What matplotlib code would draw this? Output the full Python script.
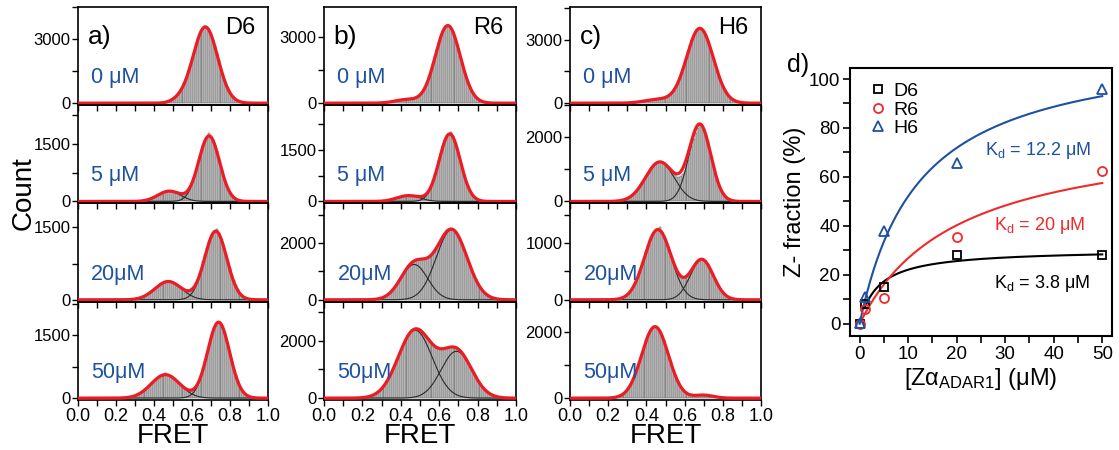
import numpy as np
import matplotlib
matplotlib.use("Agg")
import matplotlib.pyplot as plt
from matplotlib.ticker import MultipleLocator, AutoMinorLocator

plt.rcParams["font.family"] = ["Liberation Sans", "DejaVu Sans"]
plt.rcParams["mathtext.fontset"] = "custom"
plt.rcParams["mathtext.rm"] = "Liberation Sans"
plt.rcParams["mathtext.it"] = "Liberation Sans:italic"

# ---------------------------------------------------------------------------
# smFRET histograms: counts in 0.01-wide bins, first bin centred at FRET 0.20
# ---------------------------------------------------------------------------
BIN_START = 0.20
BIN_WIDTH = 0.01

d6_0uM = [0, 0, 0, 0, 0, 0, 0, 0, 0, 0, 0, 0, 0, 0, 0, 0, 0, 0, 0, 0,
          10, 10, 20, 20, 30, 50, 70, 90, 120, 160,
          210, 270, 360, 470, 600, 760, 930, 1150, 1400, 1690,
          1990, 2330, 2650, 2950, 3200, 3400, 3520, 3620, 3510, 3390,
          3200, 2950, 2650, 2320, 2000, 1670, 1360, 1090, 850, 650,
          480, 350, 250, 170, 120, 80, 50, 30, 20, 10]
d6_5uM = [0, 0, 0, 0, 0, 0, 0, 0, 0, 0, 0, 0,
          8, 12, 18, 26, 36, 50, 67, 88,
          111, 137, 164, 191, 216, 238, 255, 266, 270, 266,
          255, 238, 231, 216, 205, 204, 216, 247, 298, 377,
          485, 621, 781, 958, 1143, 1321, 1477, 1604, 1687, 1780,
          1687, 1604, 1477, 1316, 1135, 946, 763, 595, 449, 327,
          231, 159, 105, 67, 41, 25, 15]
d6_20uM = [0, 0, 0, 0, 0, 0, 0, 5, 8, 11,
           17, 24, 33, 44, 59, 77, 98, 124, 151, 182,
           214, 247, 279, 309, 336, 356, 371, 379, 379, 371,
           356, 336, 309, 279, 247, 234, 215, 202, 201, 212,
           239, 285, 352, 440, 547, 669, 803, 944, 1080, 1202,
           1306, 1380, 1419, 1460, 1380, 1306, 1202, 1075, 936, 792,
           652, 523, 407, 308, 226, 162, 114, 77, 51, 33, 20]
d6_50uM = [0, 0, 0, 0, 0, 11, 16, 22, 31, 43,
           58, 76, 98, 125, 156, 191, 230, 273, 317, 362,
           407, 449, 486, 517, 540, 555, 590, 555, 540, 517,
           486, 449, 407, 362, 317, 273, 245, 216, 196, 188,
           196, 223, 270, 342, 441, 566, 715, 886, 1070, 1255,
           1428, 1586, 1707, 1785, 1812, 1785, 1707, 1586, 1428, 1250,
           1062, 875, 699, 544, 410, 299, 212, 147, 98, 63, 40, 25, 15]

r6_0uM = [0, 0, 0, 0, 0, 0, 0, 0, 0, 0, 0, 0, 0,
          20, 40, 60, 80, 100, 110, 120,
          130, 140, 150, 160, 170, 209, 230, 256, 292, 335,
          404, 501, 626, 790, 990, 1239, 1506, 1821, 2151, 2477,
          2788, 3065, 3291, 3451, 3532, 3532, 3451, 3291, 3065, 2788,
          2477, 2151, 1821, 1506, 1219, 960, 740, 556, 411, 294,
          205, 142, 96, 60, 39, 25, 15]
r6_5uM = [0, 0, 0, 0, 0, 0, 0, 0, 5, 7,
          11, 16, 23, 32, 42, 55, 70, 86, 103, 120,
          136, 150, 161, 168, 170, 168, 161, 150, 136, 142,
          140, 147, 166, 204, 262, 350, 465, 611, 787, 983,
          1195, 1406, 1605, 1772, 1891, 1956, 2010, 1891, 1772, 1605,
          1406, 1190, 976, 776, 595, 442, 318, 220, 149, 96,
          61, 37, 22, 13]
r6_20uM = [0, 0, 0, 0, 5, 9, 14, 21, 31, 46,
           65, 91, 126, 168, 222, 287, 363, 449, 546, 649,
           756, 878, 988, 1090, 1183, 1263, 1328, 1372, 1404, 1421,
           1430, 1436, 1445, 1458, 1485, 1528, 1591, 1669, 1768, 1878,
           1998, 2119, 2235, 2336, 2416, 2474, 2496, 2486, 2442, 2351,
           2245, 2109, 1951, 1776, 1591, 1405, 1220, 1045, 879, 729,
           595, 479, 378, 294, 225, 170, 126, 94, 67, 47, 32, 22, 15]
r6_50uM = [15, 26, 35, 50, 66, 90, 118, 156, 203, 260,
           328, 406, 501, 607, 730, 862, 1006, 1160, 1318, 1481,
           1644, 1797, 1944, 2071, 2183, 2268, 2355, 2394, 2409, 2401,
           2366, 2313, 2242, 2164, 2077, 1995, 1915, 1847, 1793, 1751,
           1726, 1718, 1717, 1729, 1745, 1763, 1776, 1780, 1770, 1745,
           1704, 1643, 1566, 1470, 1365, 1247, 1124, 988, 864, 745,
           633, 529, 434, 351, 280, 220, 171, 130, 98, 72, 52, 37, 26]

h6_0uM = [0, 0, 0, 0, 0, 0, 0, 0, 0, 0,
          20, 30, 40, 50, 60, 70, 80, 90, 100, 110,
          120, 130, 140, 150, 160, 170, 205, 219, 230, 248,
          281, 314, 368, 447, 547, 678, 842, 1027, 1271, 1546,
          1839, 2143, 2446, 2736, 2997, 3219, 3389, 3495, 3530, 3495,
          3389, 3219, 2997, 2736, 2446, 2143, 1839, 1546, 1271, 1027,
          812, 628, 477, 357, 258, 184, 131, 88, 60, 39, 25, 15]
h6_5uM = [0, 0, 0, 0, 0, 17, 25, 36, 49, 69,
          95, 127, 166, 215, 274, 342, 419, 506, 599, 696,
          796, 893, 985, 1066, 1135, 1187, 1219, 1230, 1219, 1187,
          1135, 1083, 1013, 940, 870, 813, 776, 767, 789, 856,
          962, 1106, 1289, 1501, 1723, 1938, 2131, 2283, 2415, 2371,
          2258, 2082, 1869, 1628, 1374, 1123, 891, 688, 514, 370,
          261, 177, 117, 74, 47, 28, 17]
h6_20uM = [0, 0, 0, 0, 0, 14, 21, 31, 46, 64,
           90, 125, 167, 221, 285, 361, 446, 543, 646, 752,
           859, 960, 1052, 1130, 1189, 1227, 1239, 1290, 1189, 1130,
           1052, 968, 872, 773, 677, 590, 514, 457, 418, 398,
           398, 417, 449, 495, 548, 600, 648, 686, 709, 716,
           700, 672, 627, 569, 502, 431, 359, 292, 231, 177,
           133, 96, 68, 47, 31, 21, 13, 8]
h6_50uM = [0, 0, 10, 20, 30, 45, 65, 95, 133, 185,
           252, 335, 436, 557, 699, 856, 1030, 1210, 1398, 1578,
           1748, 1898, 2017, 2101, 2144, 2144, 2101, 2017, 1898, 1748,
           1578, 1398, 1210, 1030, 856, 699, 557, 436, 335, 252,
           198, 151, 121, 98, 89, 85, 86, 88, 90, 92,
           90, 87, 82, 75, 66, 55, 44, 33, 26, 18,
           13, 8]

# Gaussian fit components (amplitude, centre, sigma) for each histogram
d6_fits = [[(3560, 0.67, 0.065), (110, 0.53, 0.04)],
           [(1714, 0.69, 0.055), (270, 0.48, 0.06)],
           [(1424, 0.725, 0.058), (380, 0.475, 0.07)],
           [(1812, 0.74, 0.058), (560, 0.46, 0.075)]]
r6_fits = [[(3543, 0.645, 0.065), (160, 0.43, 0.06)],
           [(1964, 0.655, 0.055), (170, 0.44, 0.06)],
           [(2470, 0.665, 0.08), (1246, 0.47, 0.07)],
           [(2362, 0.475, 0.088), (1627, 0.69, 0.08)]]
h6_fits = [[(3530, 0.68, 0.07), (170, 0.46, 0.07)],
           [(2390, 0.68, 0.057), (1230, 0.47, 0.075)],
           [(1239, 0.46, 0.07), (710, 0.69, 0.06)],
           [(2150, 0.445, 0.07), (90, 0.70, 0.05)]]

constructs = ["D6", "R6", "H6"]
panel_tags = ["a)", "b)", "c)"]
conc_labels = ["0 μM", "5 μM", "20μM", "50μM"]

# Z-fraction titration
zalpha_conc = [0, 1, 5, 20, 50]
d6_zfraction = [0, 8, 15, 28, 28]
r6_zfraction = [0, 6, 10.5, 35.5, 62.5]
h6_zfraction = [0.5, 11, 38, 65.5, 96]
kd_values = {"D6": 3.8, "R6": 20.0, "H6": 12.2}
zmax_values = {"D6": 30.5, "R6": 80.5, "H6": 115.7}

# ---------------------------------------------------------------------------
RED = "#ec1c24"
BLUE = "#1d51a0"

hists = {"D6": [d6_0uM, d6_5uM, d6_20uM, d6_50uM],
         "R6": [r6_0uM, r6_5uM, r6_20uM, r6_50uM],
         "H6": [h6_0uM, h6_5uM, h6_20uM, h6_50uM]}
fits = {"D6": d6_fits, "R6": r6_fits, "H6": h6_fits}
component_rows = {"D6": [1, 2, 3], "R6": [1, 2, 3], "H6": [1, 2]}
row_tops = {"D6": [4500, 2520, 2000, 2300],
            "R6": [4400, 2800, 3400, 3350],
            "H6": [4550, 3000, 1700, 2900]}
row_major = {"D6": [3000, 1500, 1500, 1500],
             "R6": [3000, 1500, 2000, 2000],
             "H6": [3000, 2000, 1000, 2000]}

fig = plt.figure(figsize=(11.19, 4.5), dpi=100)

columns = [(0.0697, 0.1698), (0.2895, 0.1716), (0.5094, 0.1707)]
top, bottom = 0.985, 0.111
row_h = (top - bottom) / 4
xfit = np.linspace(0, 1, 500)


def gauss(x, a, c, s):
    return a * np.exp(-(x - c) ** 2 / (2 * s ** 2))


for j, name in enumerate(constructs):
    left, width = columns[j]
    for i in range(4):
        ax = fig.add_axes([left, top - (i + 1) * row_h, width, row_h])
        ax.patch.set_alpha(0)
        counts = np.asarray(hists[name][i], dtype=float)
        centres = BIN_START + BIN_WIDTH * np.arange(len(counts))
        ax.bar(centres, counts, width=BIN_WIDTH, color="#d2d2d2",
               edgecolor="#555555", linewidth=0.35, zorder=1)
        comps = fits[name][i]
        if i in component_rows[name]:
            for a, c, s in comps:
                ax.plot(xfit, gauss(xfit, a, c, s), color="#2a2a2a",
                        lw=0.8, zorder=2)
        total = sum(gauss(xfit, a, c, s) for a, c, s in comps)
        ax.plot(xfit, total, color=RED, lw=2.3, zorder=3)

        ymax = row_tops[name][i]
        ax.set_xlim(0, 1)
        ax.set_ylim(-0.02 * ymax, ymax)
        ax.xaxis.set_major_locator(MultipleLocator(0.2))
        ax.xaxis.set_minor_locator(MultipleLocator(0.1))
        ax.yaxis.set_major_locator(MultipleLocator(row_major[name][i]))
        ax.yaxis.set_minor_locator(AutoMinorLocator(2))
        ax.tick_params(which="both", direction="out", length=4.5,
                       width=1.0, labelsize=12, pad=1)
        ax.tick_params(axis="x", labelsize=13, pad=1.5)
        for sp in ax.spines.values():
            sp.set_linewidth(1.2)
        if i < 3:
            ax.tick_params(axis="x", labelbottom=False)
        else:
            ax.xaxis.set_major_formatter(plt.FuncFormatter(lambda v, p: f"{v:.1f}"))
            ax.set_xlabel("FRET", fontsize=20, labelpad=-1.5)
        ax.text(0.07, 0.28, conc_labels[i], transform=ax.transAxes,
                color=BLUE, fontsize=15.5, ha="left", va="center")
        if i == 0:
            ax.text(0.05, 0.69, panel_tags[j], transform=ax.transAxes,
                    fontsize=19, ha="left", va="center")
            ax.text(0.935, 0.9, name, transform=ax.transAxes,
                    fontsize=17, ha="right", va="top")

fig.text(0.021, 0.57, "Count", rotation=90, fontsize=20,
         ha="center", va="center")

# ---------------------------------------------------------------------------
# Panel d: Z-fraction versus Zalpha concentration with binding-curve fits
# ---------------------------------------------------------------------------
axd = fig.add_axes([0.7596, 0.2533, 0.2341, 0.5956])
series = [("D6", d6_zfraction, "k", "s", 6.0, 1.0),
          ("R6", r6_zfraction, "#f02a2a", "o", 6.5, 0.5),
          ("H6", h6_zfraction, BLUE, "^", 7.5, 0.0)]
for name, zf, col, mk, ms, x0 in series:
    xc = np.linspace(x0, 50, 300)
    kd, zm = kd_values[name], zmax_values[name]
    axd.plot(xc, zm * xc / (kd + xc), color=col, lw=1.5, zorder=2)
for name, zf, col, mk, ms, x0 in series:
    axd.plot(zalpha_conc, zf, linestyle="none", marker=mk, ms=ms,
             mfc="none", mec=col, mew=1.3, label=name, zorder=3,
             clip_on=False)

axd.text(25.9, 70.6, r"K$_\mathregular{d}$ = 12.2 μM", color=BLUE,
         fontsize=13, ha="left", va="center")
axd.text(27.7, 40, r"K$_\mathregular{d}$ = 20 μM", color="#f02a2a",
         fontsize=13, ha="left", va="center")
axd.text(27.7, 16.6, r"K$_\mathregular{d}$ = 3.8 μM", color="k",
         fontsize=13, ha="left", va="center")

axd.set_xlim(-2, 52)
axd.set_ylim(-5, 104.5)
axd.xaxis.set_major_locator(MultipleLocator(10))
axd.xaxis.set_minor_locator(MultipleLocator(5))
axd.yaxis.set_major_locator(MultipleLocator(20))
axd.yaxis.set_minor_locator(MultipleLocator(10))
axd.tick_params(which="both", direction="out", length=5, width=1.2,
                labelsize=13.5, pad=2)
for sp in axd.spines.values():
    sp.set_linewidth(1.5)
axd.set_xlabel(r"[Zα$_{\mathregular{ADAR1}}$] (μM)", fontsize=17, labelpad=2)
axd.set_ylabel("Z- fraction (%)", fontsize=17, labelpad=2)
leg = axd.legend(loc="upper left", bbox_to_anchor=(0.025, 0.99), frameon=False,
                 fontsize=14, handlelength=1.0, handletextpad=0.3,
                 labelspacing=0.05, borderaxespad=0.2, numpoints=1)
fig.text(0.703, 0.855, "d)", fontsize=18, ha="left", va="center")

fig.savefig("out.png", dpi=100)
